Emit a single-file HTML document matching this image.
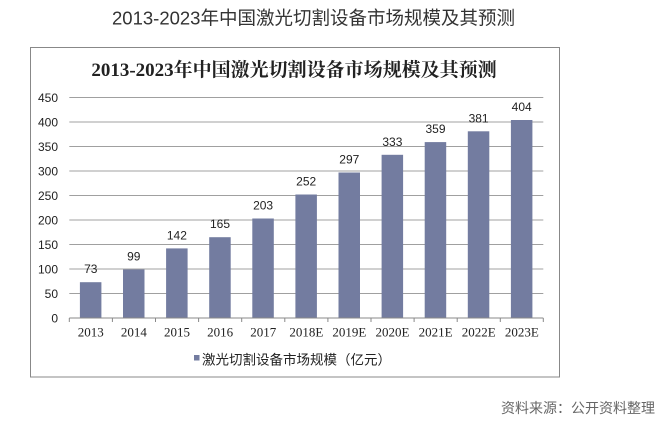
<!DOCTYPE html>
<html><head><meta charset="utf-8"><style>
html,body{margin:0;padding:0;background:#fff;}
svg{display:block;}
</style></head><body>
<svg width="658" height="421" viewBox="0 0 658 421" xmlns="http://www.w3.org/2000/svg">
<rect width="658" height="421" fill="#fff"/>
<text x="313.5" y="24.5" text-anchor="middle" font-family="Liberation Sans, Noto Sans CJK SC, sans-serif" font-size="18.5" fill="#333">2013-2023年中国激光切割设备市场规模及其预测</text>
<rect x="30.5" y="47.5" width="529" height="329.5" fill="#fff" stroke="#888" stroke-width="1"/>
<text x="294" y="76" text-anchor="middle" font-family="Liberation Serif, Noto Serif CJK SC, serif" font-weight="bold" font-size="19" fill="#222">2013-2023年中国激光切割设备市场规模及其预测</text>
<g stroke="#a0a0a0" stroke-width="1">
<line x1="69.3" x2="543.3" y1="97.5" y2="97.5"/>
<line x1="69.3" x2="543.3" y1="122" y2="122"/>
<line x1="69.3" x2="543.3" y1="146.5" y2="146.5"/>
<line x1="69.3" x2="543.3" y1="171" y2="171"/>
<line x1="69.3" x2="543.3" y1="195.5" y2="195.5"/>
<line x1="69.3" x2="543.3" y1="220" y2="220"/>
<line x1="69.3" x2="543.3" y1="244.5" y2="244.5"/>
<line x1="69.3" x2="543.3" y1="269" y2="269"/>
<line x1="69.3" x2="543.3" y1="293.5" y2="293.5"/>
</g>
<g font-family="Liberation Sans, sans-serif" font-size="12" fill="#222" text-anchor="end">
<text x="58" y="101.8">450</text>
<text x="58" y="126.3">400</text>
<text x="58" y="150.8">350</text>
<text x="58" y="175.3">300</text>
<text x="58" y="199.8">250</text>
<text x="58" y="224.3">200</text>
<text x="58" y="248.8">150</text>
<text x="58" y="273.3">100</text>
<text x="58" y="297.8">50</text>
<text x="58" y="322.3">0</text>
</g>
<g fill="#737ca0">
<rect x="79.9" y="282.2" width="21.5" height="35.8"/>
<rect x="123" y="269.5" width="21.5" height="48.5"/>
<rect x="166.1" y="248.4" width="21.5" height="69.6"/>
<rect x="209.2" y="237.2" width="21.5" height="80.8"/>
<rect x="252.3" y="218.5" width="21.5" height="99.5"/>
<rect x="295.4" y="194.5" width="21.5" height="123.5"/>
<rect x="338.5" y="172.5" width="21.5" height="145.5"/>
<rect x="381.6" y="154.8" width="21.5" height="163.2"/>
<rect x="424.7" y="142.1" width="21.5" height="175.9"/>
<rect x="467.8" y="131.3" width="21.5" height="186.7"/>
<rect x="510.9" y="120" width="21.5" height="198"/>
</g>
<g font-family="Liberation Sans, sans-serif" font-size="12" fill="#222" text-anchor="middle">
<text x="90.8" y="273.2">73</text>
<text x="133.8" y="260.5">99</text>
<text x="176.9" y="239.4">142</text>
<text x="220" y="228.2">165</text>
<text x="263.1" y="209.5">203</text>
<text x="306.2" y="185.5">252</text>
<text x="349.3" y="163.5">297</text>
<text x="392.4" y="145.8">333</text>
<text x="435.5" y="133.1">359</text>
<text x="478.6" y="122.3">381</text>
<text x="521.7" y="111">404</text>
</g>
<g stroke="#888" stroke-width="1">
<line x1="69.3" x2="543.3" y1="318" y2="318"/>
<line x1="69.3" x2="69.3" y1="318" y2="322"/>
<line x1="112.4" x2="112.4" y1="318" y2="322"/>
<line x1="155.5" x2="155.5" y1="318" y2="322"/>
<line x1="198.6" x2="198.6" y1="318" y2="322"/>
<line x1="241.7" x2="241.7" y1="318" y2="322"/>
<line x1="284.8" x2="284.8" y1="318" y2="322"/>
<line x1="327.9" x2="327.9" y1="318" y2="322"/>
<line x1="371" x2="371" y1="318" y2="322"/>
<line x1="414.1" x2="414.1" y1="318" y2="322"/>
<line x1="457.2" x2="457.2" y1="318" y2="322"/>
<line x1="500.3" x2="500.3" y1="318" y2="322"/>
<line x1="543.3" x2="543.3" y1="318" y2="322"/>
</g>
<g font-family="Liberation Serif, serif" font-size="13" fill="#222" text-anchor="middle">
<text x="90.8" y="336.5">2013</text>
<text x="133.9" y="336.5">2014</text>
<text x="177" y="336.5">2015</text>
<text x="220.1" y="336.5">2016</text>
<text x="263.2" y="336.5">2017</text>
<text x="306.3" y="336.5">2018E</text>
<text x="349.4" y="336.5">2019E</text>
<text x="392.5" y="336.5">2020E</text>
<text x="435.6" y="336.5">2021E</text>
<text x="478.7" y="336.5">2022E</text>
<text x="521.8" y="336.5">2023E</text>
</g>
<rect x="194" y="355" width="5.5" height="5.5" fill="#737ca0"/>
<text x="202" y="364.5" font-family="Liberation Sans, Noto Sans CJK SC, sans-serif" font-size="13.5" fill="#222">激光切割设备市场规模（亿元）</text>
<text x="655" y="413" text-anchor="end" font-family="Liberation Sans, Noto Sans CJK SC, sans-serif" font-size="14" fill="#666">资料来源：公开资料整理</text>
</svg>
</body></html>
